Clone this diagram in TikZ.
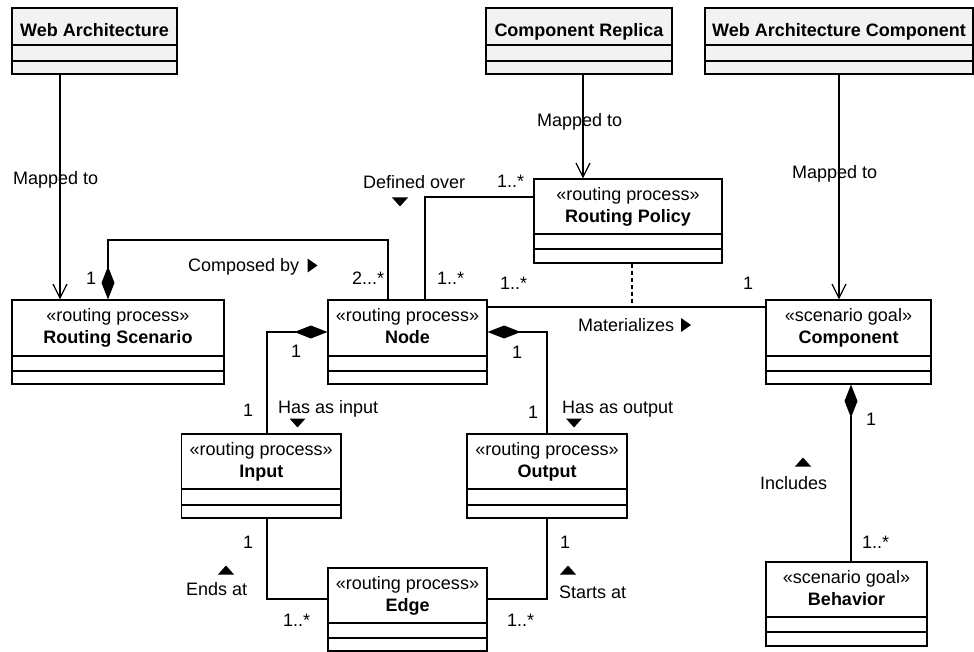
\documentclass[tikz,border=0pt]{standalone}
\usepackage{fontspec}
\setmainfont{Liberation Sans}
\usetikzlibrary{arrows.meta,fit}
\definecolor{hdrgray}{HTML}{F2F2F2}
\definecolor{ink}{HTML}{000000}

% class box: style, name, x1, y1, x2, y2, first divider, second divider
\newcommand\umlbox[8]{%
  \node[#1, fit={(#3,#4) (#5,#6)}] (#2) {};
  \draw[conn] (#2.west |- 0,#7) -- (#2.east |- 0,#7);
  \draw[conn] (#2.west |- 0,#8) -- (#2.east |- 0,#8);
}

\begin{document}
\begin{tikzpicture}[x=1pt,y=-1pt,
  every node/.style={inner sep=0pt},
  conn/.style={draw=ink, line width=1.2pt},
  cls/.style={draw=ink, line width=1.2pt, fill=white, rectangle, inner sep=0pt},
  clsgray/.style={cls, fill=hdrgray},
  txt/.style={font=\fontsize{18}{21}\selectfont, text=ink, anchor=base},
  clsname/.style={txt, font=\fontsize{18}{21}\selectfont\bfseries},
  lbl/.style={txt, anchor=base west},
  mapsto/.style={conn, -{Straight Barb[length=14pt,width=14pt]}},
  compose/.style={conn, {Diamond[length=33pt,width=13pt]}-},
  realize/.style={conn, line width=1.1pt, dash pattern=on 4pt off 3pt},
  tridown/.pic={\fill[ink] (-8,-4.5) -- (8,-4.5) -- (0,4.5) -- cycle;},
  triup/.pic={\fill[ink] (-8,4.5) -- (8,4.5) -- (0,-4.5) -- cycle;},
  triright/.pic={\fill[ink] (-5,-7) -- (-5,7) -- (5,0) -- cycle;},
]
\useasboundingbox (0,0) rectangle (974,652);

% ---- classes ----
\umlbox{clsgray}{wa}{12}{8}{177}{74}{45}{61}
\umlbox{clsgray}{cr}{486}{8}{672}{74}{45}{61}
\umlbox{clsgray}{wac}{705}{8}{973}{74}{45}{61}
\umlbox{cls}{rp}{534}{179}{722}{263}{234}{249}
\umlbox{cls}{rs}{12}{300}{224}{384}{356}{371}
\umlbox{cls}{nd}{328}{300}{487}{384}{356}{371}
\umlbox{cls}{cp}{766}{300}{931}{384}{356}{371}
\umlbox{cls}{inp}{181.5}{434}{341}{518}{489}{505}
\umlbox{cls}{outp}{467}{434}{627}{518}{489}{505}
\umlbox{cls}{ed}{328}{568}{487}{651}{623}{638}
\umlbox{cls}{bh}{766}{562}{927}{646}{617}{632}

% ---- class titles ----
\node[clsname] (waT) at (94.5,36.7) {Web Architecture};
\node[clsname] (crT) at (579,36.7) {Component Replica};
\node[clsname] (wacT) at (839,36.7) {Web Architecture Component};

\node[txt] (rpS) at (628,200.7) {«routing process»};
\node[clsname] (rpT) at (628,222.3) {Routing Policy};
\node[txt] (rsS) at (118,321.7) {«routing process»};
\node[clsname] (rsT) at (118,343.3) {Routing Scenario};
\node[txt] (ndS) at (407.5,321.7) {«routing process»};
\node[clsname] (ndT) at (407.5,343.3) {Node};
\node[txt] (cpS) at (848.5,321.7) {«scenario goal»};
\node[clsname] (cpT) at (848.5,343.3) {Component};
\node[txt] (inpS) at (261.25,455.7) {«routing process»};
\node[clsname] (inpT) at (261.25,477.3) {Input};
\node[txt] (outpS) at (547,455.7) {«routing process»};
\node[clsname] (outpT) at (547,477.3) {Output};
\node[txt] (edS) at (407.5,589.7) {«routing process»};
\node[clsname] (edT) at (407.5,611.3) {Edge};
\node[txt] (bhS) at (846.5,583.7) {«scenario goal»};
\node[clsname] (bhT) at (846.5,605.3) {Behavior};

% ---- mappings ----
\draw[mapsto] (wa.south -| 60,0) -- (rs.north -| 60,0);
\draw[mapsto] (cr.south -| 583,0) -- (rp.north -| 583,0);
\draw[mapsto] (wac.south -| 839,0) -- (cp.north -| 839,0);

% ---- associations ----
\draw[compose] (rs.north -| 108,0) -- (108,240) -- (388,240) -- (nd.north -| 388,0);
\draw[conn] (nd.north -| 425,0) -- (425,197) -- (rp.west |- 0,197);
\draw[conn] (nd.east |- 0,307) -- (cp.west |- 0,307);
\coordinate (matjoin) at (632,307);
\draw[realize] (rp.south -| 632,0) -- (matjoin);
\draw[compose] (nd.west |- 0,332) -- (267,332) -- (inp.north -| 267,0);
\draw[compose] (nd.east |- 0,332) -- (547,332) -- (outp.north -| 547,0);
\draw[conn] (inp.south -| 267,0) -- (267,599) -- (ed.west |- 0,599);
\draw[conn] (outp.south -| 547,0) -- (547,599) -- (ed.east |- 0,599);
\draw[compose] (cp.south -| 851,0) -- (bh.north -| 851,0);

% ---- labels ----
\node[lbl] (l1) at (13,185) {Mapped to};
\node[lbl] (l2) at (537,126.7) {Mapped to};
\node[lbl] (l3) at (792,178.3) {Mapped to};
\node[lbl] (l4) at (363,189) {Defined over};
\node[lbl] (l5) at (497,188) {1..*};
\node[lbl] (l6) at (188,271.7) {Composed by};
\node[lbl] (l7) at (86,284) {1};
\node[lbl] (l8) at (352,284) {2...*};
\node[lbl] (l9) at (437,284) {1..*};
\node[lbl] (l10) at (500,290) {1..*};
\node[lbl] (l11) at (743,289) {1};
\node[lbl] (l12) at (578,331.7) {Materializes};
\node[lbl] (l13) at (291,357.7) {1};
\node[lbl] (l14) at (512,358) {1};
\node[lbl] (l15) at (243,416.7) {1};
\node[lbl] (l16) at (278,413) {Has as input};
\node[lbl] (l17) at (528,418) {1};
\node[lbl] (l18) at (562,413) {Has as output};
\node[lbl] (l19) at (243,548) {1};
\node[lbl] (l20) at (186,595.3) {Ends at};
\node[lbl] (l21) at (283,626) {1..*};
\node[lbl] (l22) at (560,548) {1};
\node[lbl] (l23) at (559,598.3) {Starts at};
\node[lbl] (l24) at (507,626) {1..*};
\node[lbl] (l25) at (866,425) {1};
\node[lbl] (l26) at (760,489.3) {Includes};
\node[lbl] (l27) at (862,548.3) {1..*};

% ---- reading direction marks ----
\pic at (400,202) {tridown};
\pic at (297.5,423) {tridown};
\pic at (574,423) {tridown};
\pic at (226,570) {triup};
\pic at (568,570) {triup};
\pic at (803,462) {triup};
\pic at (312.5,265.5) {triright};
\pic at (686,325) {triright};
\end{tikzpicture}
\end{document}
